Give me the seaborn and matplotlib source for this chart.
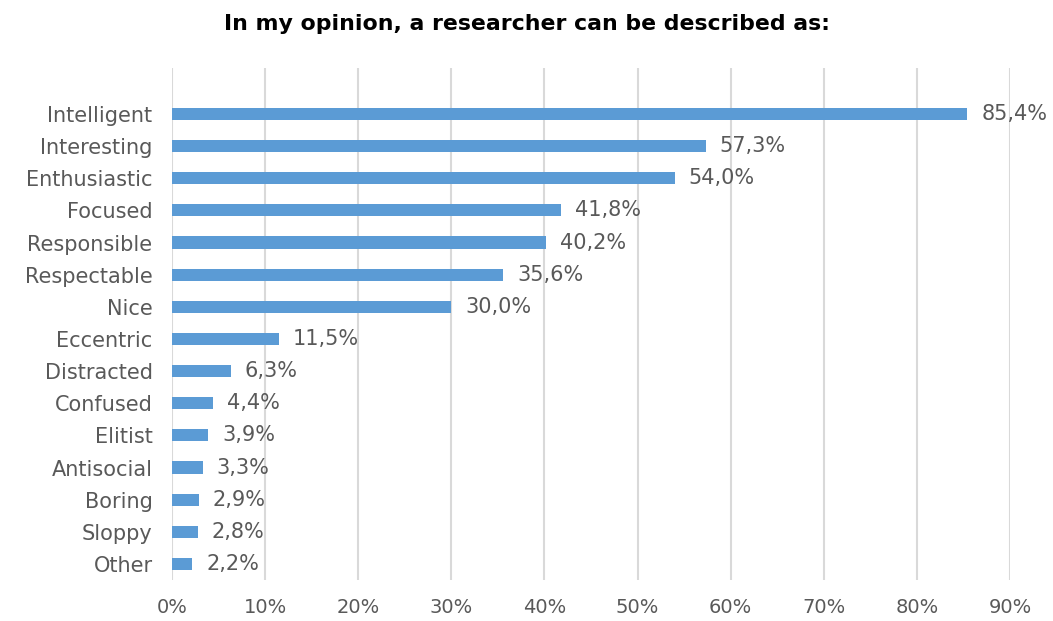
import pandas as pd
import matplotlib.pyplot as plt
import seaborn as sns
from matplotlib.ticker import PercentFormatter

sns.set_theme(style="whitegrid")
plt.rcParams["font.family"] = ["DejaVu Sans"]

categories = ["Intelligent", "Interesting", "Enthusiastic", "Focused", "Responsible",
              "Respectable", "Nice", "Eccentric", "Distracted", "Confused", "Elitist",
              "Antisocial", "Boring", "Sloppy", "Other"]
values = [85.4, 57.3, 54.0, 41.8, 40.2, 35.6, 30.0, 11.5, 6.3, 4.4, 3.9, 3.3, 2.9, 2.8, 2.2]

df = pd.DataFrame({"trait": categories, "pct": values})

fig = plt.figure(figsize=(10.53, 6.21), dpi=100)
ax = fig.add_axes([0.1633, 0.066, 0.7959, 0.8245])

sns.barplot(data=df, y="trait", x="pct", order=categories, color="#5b9bd5",
            width=0.38, ax=ax, saturation=1, linewidth=0)

text_color = "#595959"
for i, v in enumerate(values):
    ax.text(v + 1.5, i, f"{v:.1f}%".replace(".", ","), va="center", ha="left",
            fontsize=15, color=text_color)

ax.set_xlim(0, 90)
ax.set_ylim(14.5, -1.43)
ax.set_xticks(range(0, 91, 10))
ax.xaxis.set_major_formatter(PercentFormatter(decimals=0))
ax.set_xlabel("")
ax.set_ylabel("")
ax.tick_params(axis="both", labelsize=14, colors=text_color, length=0)
ax.tick_params(axis="y", labelsize=15, pad=14)
ax.tick_params(axis="x", pad=13)
ax.grid(axis="x", color="#d9d9d9", linewidth=1.5)
ax.grid(axis="y", visible=False)
for s in ax.spines.values():
    s.set_visible(False)

fig.text(0.5, 0.962, "In my opinion, a researcher can be described as:",
         ha="center", va="center", fontsize=15.8, fontweight="bold", color="black")

fig.savefig("out.png", dpi=100)
